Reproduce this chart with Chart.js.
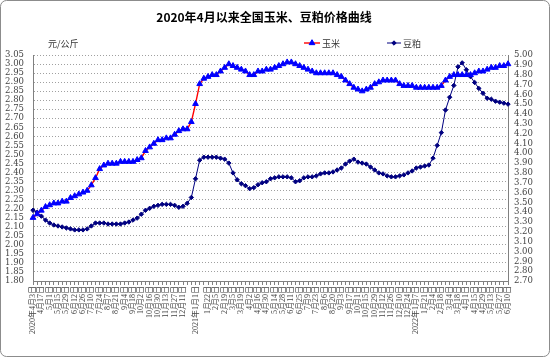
<!DOCTYPE html>
<html><head><meta charset="utf-8">
<script src="https://cdn.jsdelivr.net/npm/chart.js@4"></script>
<style>html,body{margin:0;padding:0;background:#fff}#wrap{width:550px;height:357px}</style>
</head><body><div id="wrap"><canvas id="c" width="550" height="357"></canvas></div>
<script>
const chartTitle = '2020年4月以来全国玉米、豆粕价格曲线';
const unitLabel = '元/公斤';
const seriesNames = ['玉米', '豆粕'];

const dates = [
'2020年4月3日','4月10日','4月17日','4月24日','5月1日','5月8日','5月15日','5月22日','5月29日',
'6月5日','6月12日','6月19日','6月26日','7月3日','7月10日','7月17日','7月24日','7月31日',
'8月7日','8月14日','8月21日','8月28日','9月4日','9月11日','9月18日','9月25日',
'10月2日','10月9日','10月16日','10月23日','10月30日','11月6日','11月13日','11月20日','11月27日',
'12月4日','12月11日','12月18日','12月25日',
'2021年1月1日','1月8日','1月15日','1月22日','1月29日','2月5日','2月12日','2月19日','2月26日',
'3月5日','3月12日','3月19日','3月26日','4月2日','4月9日','4月16日','4月23日','4月30日',
'5月7日','5月14日','5月21日','5月28日','6月4日','6月11日','6月18日','6月25日',
'7月2日','7月9日','7月16日','7月23日','7月30日','8月6日','8月13日','8月20日','8月27日',
'9月3日','9月10日','9月17日','9月24日','10月1日','10月8日','10月15日','10月22日','10月29日',
'11月5日','11月12日','11月19日','11月26日','12月3日','12月10日','12月17日','12月24日','12月31日',
'2022年1月7日','1月14日','1月21日','1月28日','2月4日','2月11日','2月18日','2月25日',
'3月4日','3月11日','3月18日','3月25日','4月1日','4月8日','4月15日','4月22日','4月29日',
'5月6日','5月13日','5月20日','5月27日','6月3日','6月10日'
];

const cornPrices = [
2.15,2.17,2.19,2.21,2.22,2.23,2.23,2.24,2.24,2.26,
2.27,2.28,2.29,2.30,2.33,2.37,2.42,2.44,2.45,2.45,
2.45,2.46,2.46,2.46,2.46,2.47,2.48,2.52,2.54,2.56,
2.58,2.58,2.59,2.59,2.61,2.63,2.64,2.64,2.68,2.78,
2.89,2.92,2.93,2.94,2.94,2.96,2.98,3.00,2.99,2.98,
2.97,2.96,2.94,2.94,2.96,2.96,2.97,2.97,2.98,2.99,
3.00,3.01,3.01,3.00,2.99,2.98,2.97,2.96,2.95,2.95,
2.95,2.95,2.95,2.94,2.93,2.91,2.89,2.87,2.86,2.85,
2.86,2.87,2.89,2.90,2.91,2.91,2.91,2.91,2.89,2.88,
2.88,2.88,2.87,2.87,2.87,2.87,2.87,2.87,2.88,2.91,
2.93,2.94,2.94,2.94,2.94,2.94,2.95,2.96,2.96,2.97,
2.98,2.98,2.99,2.99,3.00
];

const soymealPrices = [
3.42,3.40,3.36,3.32,3.29,3.27,3.26,3.25,3.24,3.23,
3.22,3.22,3.22,3.23,3.26,3.29,3.29,3.29,3.28,3.28,
3.28,3.28,3.29,3.30,3.32,3.34,3.38,3.42,3.44,3.46,
3.47,3.48,3.48,3.48,3.47,3.45,3.46,3.49,3.55,3.74,
3.93,3.96,3.96,3.96,3.96,3.95,3.94,3.90,3.80,3.73,
3.69,3.67,3.64,3.65,3.68,3.70,3.71,3.74,3.75,3.76,
3.76,3.76,3.75,3.71,3.72,3.75,3.76,3.76,3.77,3.79,
3.80,3.80,3.81,3.83,3.85,3.89,3.92,3.94,3.91,3.90,
3.89,3.86,3.83,3.80,3.79,3.77,3.76,3.76,3.77,3.78,
3.80,3.82,3.85,3.86,3.87,3.88,3.95,4.08,4.21,4.44,
4.57,4.69,4.88,4.92,4.85,4.78,4.72,4.66,4.61,4.56,
4.55,4.53,4.52,4.51,4.50
];

const leftAxis = {min: 1.80, max: 3.05, step: 0.05};
const rightAxis = {min: 2.70, max: 5.00, step: 0.10};

const tickFont = {family: "'DejaVu Serif','Liberation Serif','Noto Sans CJK SC'", size: 8.5};
const xFont = {family: "'Liberation Serif','Noto Sans CJK SC'", size: 8};

const decor = {
  id: 'decor',
  beforeDraw(chart) {
    const ctx = chart.ctx;
    ctx.save();
    ctx.fillStyle = '#fff';
    ctx.fillRect(0, 0, chart.width, chart.height);
    ctx.restore();
  },
  afterDraw(chart) {
    const ctx = chart.ctx;
    ctx.save();
    ctx.strokeStyle = '#8c8c8c';
    ctx.lineWidth = 1;
    ctx.beginPath();
    ctx.roundRect(0.5, 0.5, chart.width - 1, chart.height - 1, 6);
    ctx.stroke();
    ctx.fillStyle = '#000';
    ctx.font = "bold 12px 'Noto Sans CJK SC'";
    ctx.textAlign = 'center';
    ctx.textBaseline = 'middle';
    ctx.fillText(chartTitle, 264, 17);
    ctx.font = "9px 'Noto Sans CJK SC'";
    ctx.fillStyle = '#333';
    ctx.textAlign = 'left';
    ctx.fillText(unitLabel, 48, 44);
    const ds = chart.data.datasets;
    const items = [{x: 304, w: 16}, {x: 387, w: 14}];
    items.forEach((it, k) => {
      const d = ds[k];
      const y = 43;
      ctx.strokeStyle = d.borderColor;
      ctx.lineWidth = d.borderWidth;
      ctx.beginPath();
      ctx.moveTo(it.x, y); ctx.lineTo(it.x + it.w, y); ctx.stroke();
      ctx.fillStyle = d.pointBackgroundColor;
      ctx.strokeStyle = d.pointBorderColor;
      ctx.lineWidth = 1;
      Chart.helpers.drawPoint(ctx, {pointStyle: d.pointStyle, radius: d.pointRadius, rotation: 0, borderWidth: 1}, it.x + it.w / 2, y);
      ctx.fillStyle = '#333';
      ctx.font = "9px 'Noto Sans CJK SC'";
      ctx.textAlign = 'left';
      ctx.fillText(d.label, it.x + it.w + 2, y + 0.5);
    });
    ctx.restore();
  }
};

new Chart(document.getElementById('c'), {
  type: 'line',
  data: {
    labels: dates,
    datasets: [
      {
        label: seriesNames[0], data: cornPrices, yAxisID: 'y',
        borderColor: '#ff0000', borderWidth: 1.4,
        pointStyle: 'triangle', pointRadius: 3.3,
        pointBackgroundColor: '#0000ff', pointBorderColor: '#0000ff', pointBorderWidth: 1,
        tension: 0
      },
      {
        label: seriesNames[1], data: soymealPrices, yAxisID: 'y1',
        borderColor: '#000080', borderWidth: 1,
        pointStyle: 'rectRot', pointRadius: 2.2,
        pointBackgroundColor: '#000080', pointBorderColor: '#000080', pointBorderWidth: 1,
        tension: 0
      }
    ]
  },
  options: {
    responsive: false,
    animation: false,
    devicePixelRatio: 1,
    layout: {padding: {top: 55, bottom: 6, left: 0, right: 0}},
    plugins: {legend: {display: false}, title: {display: false}, tooltip: {enabled: false}},
    scales: {
      x: {
        type: 'category',
        offset: false,
        afterFit(s) { s.height = 70; },
        grid: {drawOnChartArea: false, drawTicks: true, tickLength: 4, color: '#808080'},
        border: {display: true, color: '#808080'},
        ticks: {
          autoSkip: false, minRotation: 90, maxRotation: 90, padding: 1,
          font: xFont, color: '#444',
          callback(v, i) {
            const l = dates[i];
            const isYear = s => s && s.indexOf('年') >= 0;
            if (isYear(l)) return l;
            if (i % 2 === 0 && !isYear(dates[i - 1]) && !isYear(dates[i + 1])) return l;
            return '';
          }
        }
      },
      y: {
        position: 'left',
        min: leftAxis.min, max: leftAxis.max,
        afterFit(s) { s.width = 33; },
        grid: {color: '#a0a0a0', drawTicks: false, lineWidth: 1},
        border: {display: true, color: '#808080', dash: [1, 2]},
        ticks: {autoSkip: false, stepSize: leftAxis.step, padding: 9, font: tickFont, color: '#444',
          callback: v => Number(v).toFixed(2)}
      },
      y1: {
        position: 'right',
        min: rightAxis.min, max: rightAxis.max,
        afterFit(s) { s.width = 42; },
        grid: {drawOnChartArea: false, drawTicks: false},
        border: {display: true, color: '#808080'},
        ticks: {autoSkip: false, stepSize: rightAxis.step, padding: 6, font: tickFont, color: '#444',
          callback: v => Number(v).toFixed(2)}
      }
    }
  },
  plugins: [decor]
});
</script>
</body></html>
